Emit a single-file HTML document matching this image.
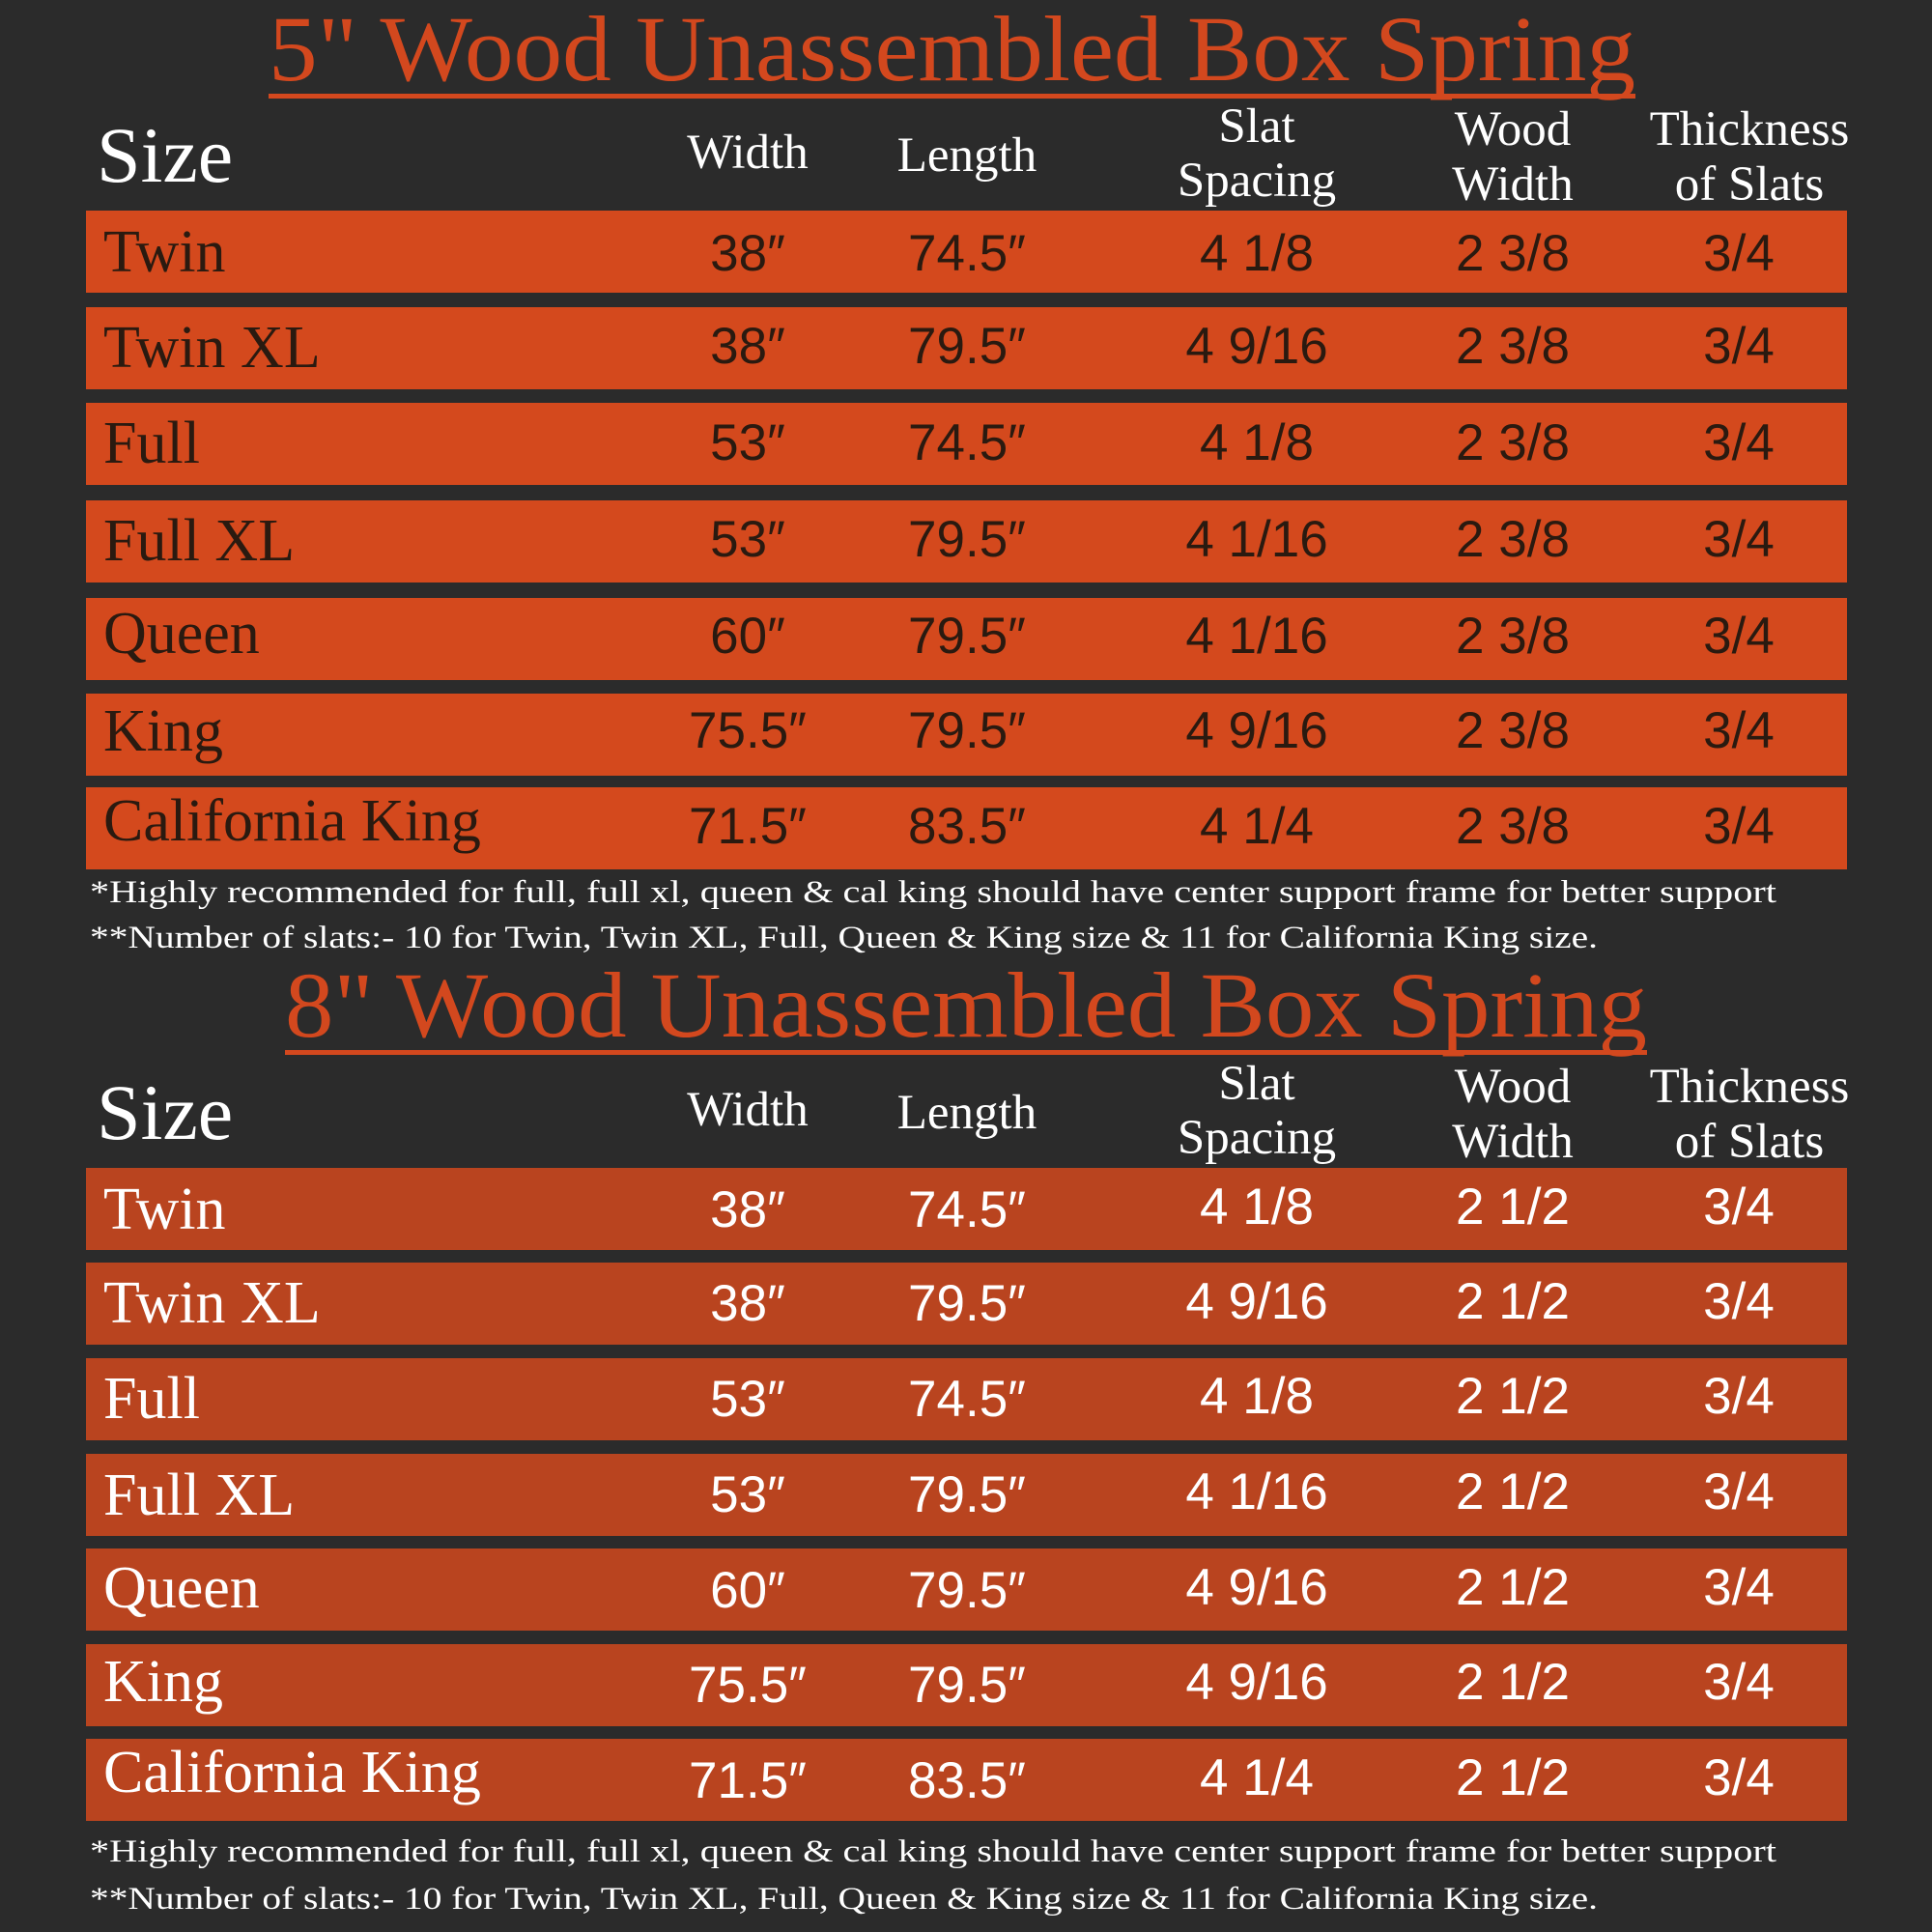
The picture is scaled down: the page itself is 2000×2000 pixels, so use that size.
<!DOCTYPE html>
<html><head><meta charset="utf-8"><style>
html,body{margin:0;padding:0;background:#2b2b2b;}
svg{display:block}
.t{font-family:"Liberation Serif",serif;fill:#d3481e;font-size:96px}
.h{font-family:"Liberation Serif",serif;fill:#fff;font-size:51px}
.sz{font-family:"Liberation Serif",serif;fill:#fff;font-size:82px}
.l{font-family:"Liberation Serif",serif;font-size:62px}
.n{font-family:"Liberation Sans",sans-serif;font-size:53px;text-anchor:middle}
.f{font-family:"Liberation Serif",serif;fill:#fff;font-size:33px}
.c{text-anchor:middle}
</style></head><body>
<svg width="2000" height="2000" viewBox="0 0 2000 2000" xmlns="http://www.w3.org/2000/svg">
<rect width="2000" height="2000" fill="#2b2b2b"/>

<!-- TABLE 1 -->
<text class="t" x="278" y="83" textLength="1415" lengthAdjust="spacingAndGlyphs">5" Wood Unassembled Box Spring</text>
<rect x="278" y="97" width="1415" height="5" fill="#d3481e"/>
<text class="sz" x="100" y="188">Size</text>
<text class="h c" x="774" y="174">Width</text>
<text class="h c" x="1001" y="177">Length</text>
<text class="h c" x="1301" y="147">Slat</text>
<text class="h c" x="1301" y="203">Spacing</text>
<text class="h c" x="1566" y="150">Wood</text>
<text class="h c" x="1566" y="207">Width</text>
<text class="h c" x="1811" y="150">Thickness</text>
<text class="h c" x="1811" y="207">of Slats</text>

<g fill="#d4491d">
<rect x="89" y="218" width="1823" height="85"/>
<rect x="89" y="318" width="1823" height="85"/>
<rect x="89" y="417" width="1823" height="85"/>
<rect x="89" y="518" width="1823" height="85"/>
<rect x="89" y="619" width="1823" height="85"/>
<rect x="89" y="718" width="1823" height="85"/>
<rect x="89" y="815" width="1823" height="85"/>
</g>
<g fill="#2a1a10">
<g class="l">
<text x="107" y="281">Twin</text>
<text x="107" y="380">Twin XL</text>
<text x="107" y="479">Full</text>
<text x="107" y="580">Full XL</text>
<text x="107" y="676">Queen</text>
<text x="107" y="777">King</text>
<text x="107" y="870">California King</text>
</g>
<g class="n">
<text x="774" y="280">38″</text><text x="1001" y="280">74.5″</text><text x="1301" y="280">4 1/8</text><text x="1566" y="280">2 3/8</text><text x="1800" y="280">3/4</text>
<text x="774" y="376">38″</text><text x="1001" y="376">79.5″</text><text x="1301" y="376">4 9/16</text><text x="1566" y="376">2 3/8</text><text x="1800" y="376">3/4</text>
<text x="774" y="476">53″</text><text x="1001" y="476">74.5″</text><text x="1301" y="476">4 1/8</text><text x="1566" y="476">2 3/8</text><text x="1800" y="476">3/4</text>
<text x="774" y="576">53″</text><text x="1001" y="576">79.5″</text><text x="1301" y="576">4 1/16</text><text x="1566" y="576">2 3/8</text><text x="1800" y="576">3/4</text>
<text x="774" y="676">60″</text><text x="1001" y="676">79.5″</text><text x="1301" y="676">4 1/16</text><text x="1566" y="676">2 3/8</text><text x="1800" y="676">3/4</text>
<text x="774" y="774">75.5″</text><text x="1001" y="774">79.5″</text><text x="1301" y="774">4 9/16</text><text x="1566" y="774">2 3/8</text><text x="1800" y="774">3/4</text>
<text x="774" y="873">71.5″</text><text x="1001" y="873">83.5″</text><text x="1301" y="873">4 1/4</text><text x="1566" y="873">2 3/8</text><text x="1800" y="873">3/4</text>
</g>
</g>
<text class="f" x="93" y="934" textLength="1746" lengthAdjust="spacingAndGlyphs">*Highly recommended for full, full xl, queen &amp; cal king should have center support frame  for better support</text>
<text class="f" x="93" y="981" textLength="1561" lengthAdjust="spacingAndGlyphs">**Number of slats:- 10 for Twin, Twin XL, Full, Queen &amp; King size &amp; 11 for California King size.</text>

<!-- TABLE 2 -->
<text class="t" x="295" y="1073" textLength="1410" lengthAdjust="spacingAndGlyphs">8" Wood Unassembled Box Spring</text>
<rect x="295" y="1087" width="1410" height="5" fill="#d3481e"/>
<text class="sz" x="100" y="1179">Size</text>
<text class="h c" x="774" y="1165">Width</text>
<text class="h c" x="1001" y="1168">Length</text>
<text class="h c" x="1301" y="1138">Slat</text>
<text class="h c" x="1301" y="1194">Spacing</text>
<text class="h c" x="1566" y="1141">Wood</text>
<text class="h c" x="1566" y="1198">Width</text>
<text class="h c" x="1811" y="1141">Thickness</text>
<text class="h c" x="1811" y="1198">of Slats</text>

<g fill="#b9441f">
<rect x="89" y="1209" width="1823" height="85"/>
<rect x="89" y="1307" width="1823" height="85"/>
<rect x="89" y="1406" width="1823" height="85"/>
<rect x="89" y="1505" width="1823" height="85"/>
<rect x="89" y="1603" width="1823" height="85"/>
<rect x="89" y="1702" width="1823" height="85"/>
<rect x="89" y="1800" width="1823" height="85"/>
</g>
<g fill="#ffffff">
<g class="l">
<text x="107" y="1272">Twin</text>
<text x="107" y="1369">Twin XL</text>
<text x="107" y="1468">Full</text>
<text x="107" y="1568">Full XL</text>
<text x="107" y="1664">Queen</text>
<text x="107" y="1761">King</text>
<text x="107" y="1855">California King</text>
</g>
<g class="n">
<text x="774" y="1270">38″</text><text x="1001" y="1270">74.5″</text><text x="1301" y="1267">4 1/8</text><text x="1566" y="1267">2 1/2</text><text x="1800" y="1267">3/4</text>
<text x="774" y="1367">38″</text><text x="1001" y="1367">79.5″</text><text x="1301" y="1365">4 9/16</text><text x="1566" y="1365">2 1/2</text><text x="1800" y="1365">3/4</text>
<text x="774" y="1466">53″</text><text x="1001" y="1466">74.5″</text><text x="1301" y="1463">4 1/8</text><text x="1566" y="1463">2 1/2</text><text x="1800" y="1463">3/4</text>
<text x="774" y="1565">53″</text><text x="1001" y="1565">79.5″</text><text x="1301" y="1562">4 1/16</text><text x="1566" y="1562">2 1/2</text><text x="1800" y="1562">3/4</text>
<text x="774" y="1664">60″</text><text x="1001" y="1664">79.5″</text><text x="1301" y="1661">4 9/16</text><text x="1566" y="1661">2 1/2</text><text x="1800" y="1661">3/4</text>
<text x="774" y="1762">75.5″</text><text x="1001" y="1762">79.5″</text><text x="1301" y="1759">4 9/16</text><text x="1566" y="1759">2 1/2</text><text x="1800" y="1759">3/4</text>
<text x="774" y="1861">71.5″</text><text x="1001" y="1861">83.5″</text><text x="1301" y="1858">4 1/4</text><text x="1566" y="1858">2 1/2</text><text x="1800" y="1858">3/4</text>
</g>
</g>
<text class="f" x="93" y="1927" textLength="1746" lengthAdjust="spacingAndGlyphs">*Highly recommended for full, full xl, queen &amp; cal king should have center support frame  for better support</text>
<text class="f" x="93" y="1976" textLength="1561" lengthAdjust="spacingAndGlyphs">**Number of slats:- 10 for Twin, Twin XL, Full, Queen &amp; King size &amp; 11 for California King size.</text>
</svg>
</body></html>
